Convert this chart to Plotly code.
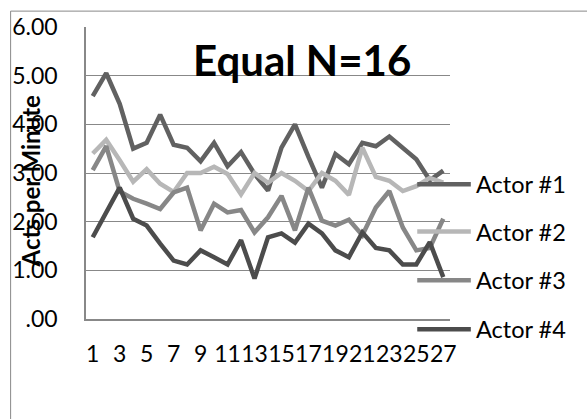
import plotly.graph_objects as go

# Session intervals (minutes) and acts-per-minute rates for each actor
minutes = list(range(1, 28))
actor1 = [4.58, 5.05, 4.42, 3.50, 3.62, 4.20, 3.58, 3.52, 3.24, 3.62, 3.14, 3.43,
          2.98, 2.64, 3.52, 4.00, 3.33, 2.70, 3.39, 3.18, 3.62, 3.55, 3.75, 3.52,
          3.28, 2.85, 3.05]
actor2 = [3.40, 3.68, 3.26, 2.82, 3.08, 2.78, 2.61, 3.00, 3.00, 3.13, 2.98, 2.56,
          3.00, 2.80, 3.00, 2.84, 2.63, 3.00, 2.84, 2.55, 3.52, 2.92, 2.84, 2.63,
          2.73, 2.90, 2.80]
actor3 = [3.06, 3.55, 2.62, 2.47, 2.37, 2.26, 2.60, 2.70, 1.82, 2.37, 2.19, 2.24,
          1.78, 2.09, 2.53, 1.82, 2.70, 2.02, 1.92, 2.04, 1.72, 2.29, 2.63, 1.88,
          1.41, 1.46, 2.06]
actor4 = [1.68, 2.19, 2.70, 2.06, 1.92, 1.55, 1.20, 1.12, 1.41, 1.27, 1.12, 1.62,
          0.83, 1.68, 1.76, 1.57, 1.96, 1.76, 1.41, 1.27, 1.78, 1.46, 1.41, 1.12,
          1.12, 1.58, 0.86]

series_names = ["Actor #1", "Actor #2", "Actor #3", "Actor #4"]
series_values = [actor1, actor2, actor3, actor4]
series_colors = ["#616161", "#b7b7b7", "#878787", "#4c4c4c"]

y_ticks = [0, 1, 2, 3, 4, 5, 6]
y_tick_text = [".00", "1.00", "2.00", "3.00", "4.00", "5.00", "6.00"]
x_ticks = minutes[::2]
x_tick_text = [str(m) for m in x_ticks]

FONT = "Lato"
GRID = "#888888"

fig = go.Figure()
for name, vals, col in zip(series_names, series_values, series_colors):
    fig.add_trace(go.Scatter(
        x=minutes, y=vals, mode="lines", name=name,
        line=dict(color=col, width=4.5), showlegend=False,
    ))

# Legend drawn as line samples with labels to the right of the plot
legend_y = [0.4616, 0.2993, 0.1327, -0.035]
for name, col, ly in zip(series_names, series_colors, legend_y):
    fig.add_shape(type="line", xref="paper", yref="paper",
                  x0=0.910, x1=1.0572, y0=ly, y1=ly,
                  line=dict(color=col, width=4.5), layer="above")
    fig.add_annotation(xref="paper", yref="paper", x=1.066, y=ly,
                       text=name, showarrow=False, xanchor="left", yanchor="middle",
                       font=dict(family=FONT, size=23.5, color="black"))

# Outer chart frame
frame = dict(color=GRID, width=1)
fig.add_shape(type="line", xref="paper", yref="paper",
              x0=-0.2071, x1=-0.2071, y0=1.0544, y1=-0.5, line=frame)
fig.add_shape(type="line", xref="paper", yref="paper",
              x0=-0.2071, x1=1.6, y0=1.0544, y1=1.0544, line=frame)

fig.add_annotation(xref="paper", yref="paper", x=0.594, y=0.888,
                   text="<b>Equal N=16</b>", showarrow=False,
                   xanchor="center", yanchor="middle",
                   font=dict(family=FONT, size=42, color="black"))
fig.add_annotation(xref="paper", yref="paper", x=-0.152, y=0.47,
                   text="<b>Acts per Minute</b>", showarrow=False, textangle=-90,
                   xanchor="center", yanchor="middle",
                   font=dict(family=FONT, size=24, color="black"))

fig.update_layout(
    width=587, height=419,
    margin=dict(l=83, r=137, t=25, b=100),
    paper_bgcolor="white", plot_bgcolor="white",
    font=dict(family=FONT, size=22, color="black"),
    showlegend=False,
)
fig.update_xaxes(
    range=[0.5, 27.5], tickmode="array", tickvals=x_ticks, ticktext=x_tick_text,
    showgrid=False, zeroline=False, showline=True, linecolor=GRID, linewidth=1.5,
    ticks="", ticklabelstandoff=14, tickangle=0,
    tickfont=dict(family=FONT, size=23, color="black"),
)
fig.update_yaxes(
    range=[0, 6], tickmode="array", tickvals=y_ticks, ticktext=y_tick_text,
    showgrid=True, gridcolor=GRID, gridwidth=1, zeroline=False,
    showline=True, linecolor=GRID, linewidth=1.5,
    ticks="", ticklabelstandoff=22,
    tickfont=dict(family=FONT, size=23, color="black"),
)

fig.write_html("out.html")
